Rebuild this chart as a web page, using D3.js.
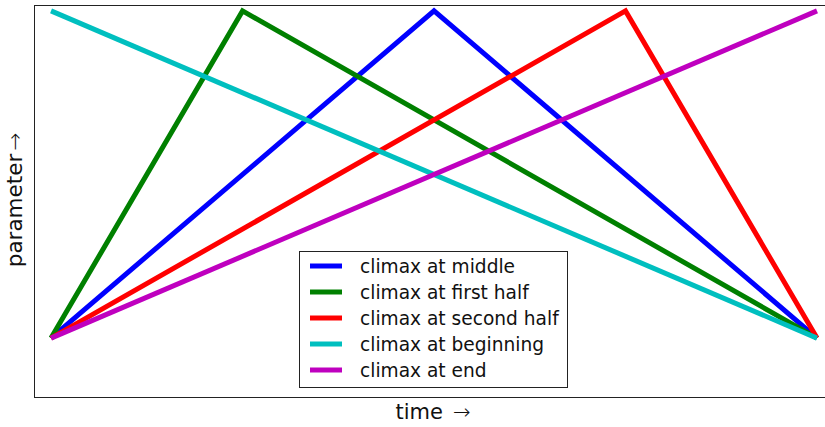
<!DOCTYPE html>
<html><head><meta charset="utf-8">
<script src="https://cdn.jsdelivr.net/npm/d3@7"></script>
<style>body{margin:0;background:#fff}svg{display:block;font-family:"DejaVu Sans",sans-serif}</style>
</head><body><svg id="c" width="825" height="427"></svg>
<script>
const seriesNames = ["climax at middle","climax at first half","climax at second half","climax at beginning","climax at end"];
const seriesColors = ["#0000ff","#008000","#ff0000","#00bfbf","#bf00bf"];
const seriesX = [[0,2,4],[0,1,4],[0,3,4],[0,4],[0,4]];
const seriesY = [[0,1,0],[0,1,0],[0,1,0],[1,0],[0,1]];
const xLabel = "time";
const yLabel = "parameter";
const arrow = "\u2192";

const svg = d3.select("#c");
const L = 34, T = 5, B = 397, R = 826;
const x = d3.scaleLinear().domain([-0.089, 4.047]).range([L, R]);
const y = d3.scaleLinear().domain([-0.18, 1.018]).range([B, T]);

const line = d3.line().x(d => x(d[0])).y(d => y(d[1]));
seriesNames.forEach((n, i) => {
  const pts = seriesX[i].map((v, j) => [v, seriesY[i][j]]);
  svg.append("path").attr("d", line(pts)).attr("fill","none")
    .attr("stroke", seriesColors[i]).attr("stroke-width", 5).attr("stroke-linejoin","miter");
});

svg.append("rect").attr("x", L+0.5).attr("y", T+0.5).attr("width", R-L).attr("height", B-T)
  .attr("fill","none").attr("stroke","#222").attr("stroke-width",1);

// legend
const lg = svg.append("g");
lg.append("rect").attr("x",299.5).attr("y",251.5).attr("width",268).attr("height",136)
  .attr("fill","#fff").attr("stroke","#222").attr("stroke-width",1);
seriesNames.forEach((n,i)=>{
  const yy = 266 + i*26;
  lg.append("line").attr("x1",310).attr("x2",342).attr("y1",yy).attr("y2",yy)
    .attr("stroke",seriesColors[i]).attr("stroke-width",5);
  lg.append("text").attr("x",360).attr("y",yy).attr("dy","0.35em")
    .attr("font-size",18.6).attr("fill","#111").text(n);
});

const xl = svg.append("text").attr("x",433).attr("y",419).attr("text-anchor","middle")
  .attr("font-size",21).attr("fill","#111");
xl.append("tspan").text(xLabel);
xl.append("tspan").attr("dx",10).attr("font-weight",200).text(arrow);

const yl = svg.append("text").attr("transform","translate(22,200) rotate(-90)").attr("text-anchor","middle")
  .attr("font-size",21.5).attr("fill","#111");
yl.append("tspan").text(yLabel);
yl.append("tspan").attr("dx",3).attr("font-weight",200).text(arrow);
</script></body></html>
